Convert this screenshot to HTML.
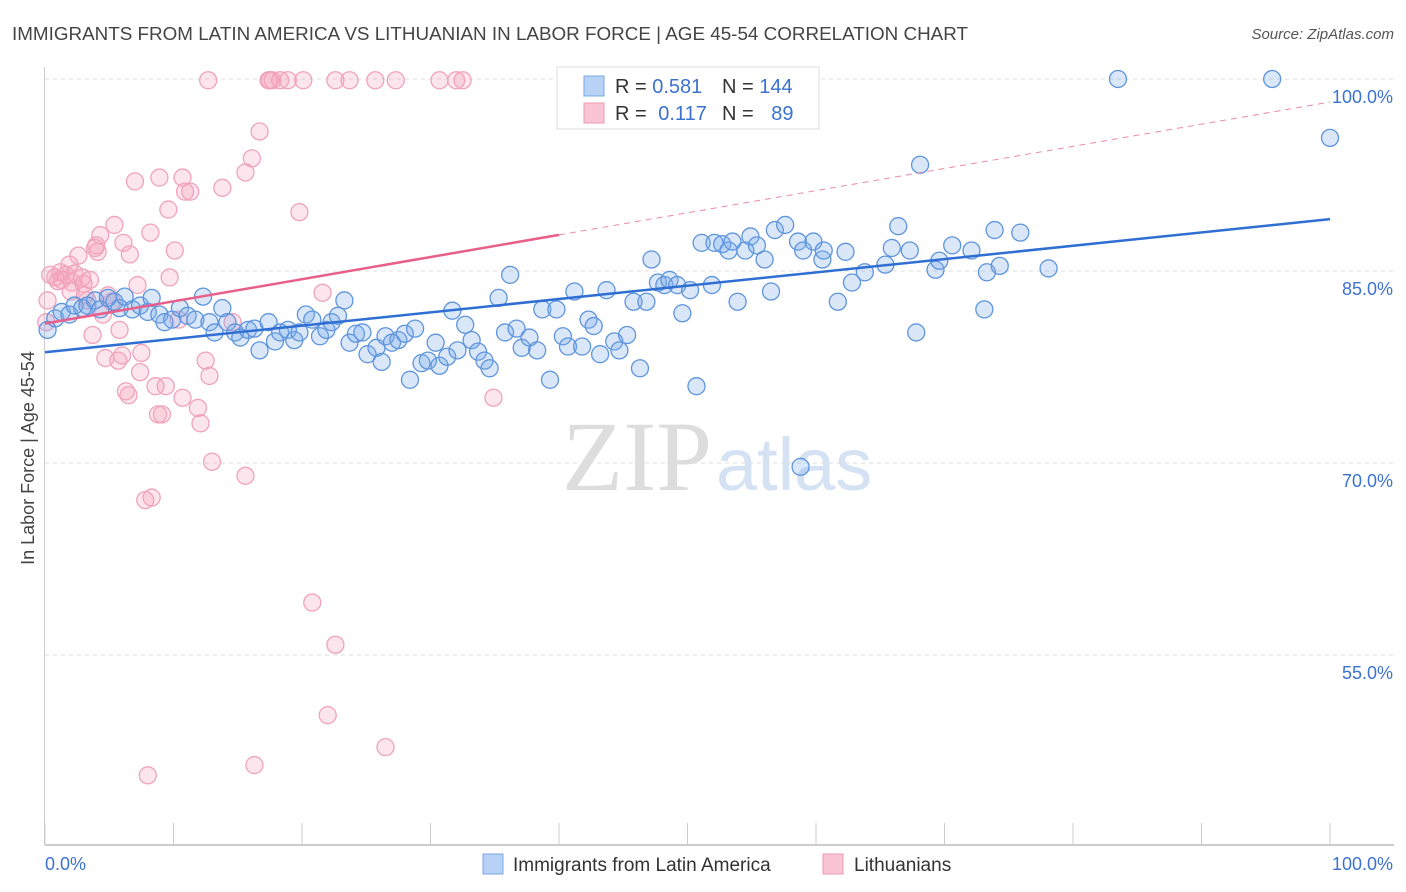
<!DOCTYPE html>
<html><head><meta charset="utf-8">
<style>
body{margin:0;background:#fff;font-family:"Liberation Sans",sans-serif;}
svg{display:block}
</style></head>
<body>
<svg id="chart" width="1406" height="892" viewBox="0 0 1406 892">
<text x="12" y="40" font-size="18" fill="#444" textLength="956" lengthAdjust="spacingAndGlyphs">IMMIGRANTS FROM LATIN AMERICA VS LITHUANIAN IN LABOR FORCE | AGE 45-54 CORRELATION CHART</text>
<text x="1394" y="39" font-size="15" fill="#555" font-style="italic" text-anchor="end">Source: ZipAtlas.com</text>
<text x="712" y="490" font-size="100" fill="#ddd" text-anchor="end" font-family="Liberation Serif,serif">ZIP</text>
<text x="716" y="490" font-size="74" fill="#d4e2f4">atlas</text>
<g id="grid"></g>
<g id="axes"></g>
<g id="pinkPts"></g>
<g id="bluePts"></g>
<g id="trends"></g>
<text x="34" y="458" font-size="18" fill="#444" text-anchor="middle" transform="rotate(-90 34 458)">In Labor Force | Age 45-54</text>
<g>
<rect x="557" y="67" width="262" height="62" fill="#fff" stroke="#ddd"/>
<rect x="584" y="76" width="20" height="20" fill="#b7d2f5" stroke="#7aa7e3"/>
<rect x="584" y="103" width="20" height="20" fill="#f9c4d3" stroke="#ee9ab4"/>
<text x="615" y="93" font-size="20" fill="#333">R = <tspan fill="#3b72d0">0.581</tspan></text>
<text x="722" y="93" font-size="20" fill="#333">N = <tspan fill="#3b72d0">144</tspan></text>
<text x="615" y="120" font-size="20" fill="#333">R = <tspan fill="#3b72d0" dx="6">0.117</tspan></text>
<text x="722" y="120" font-size="20" fill="#333">N = <tspan fill="#3b72d0" dx="12">89</tspan></text>
</g>
<g>
<rect x="483" y="854" width="20" height="20" fill="#b7d2f5" stroke="#7aa7e3"/>
<text x="513" y="871" font-size="19" fill="#333">Immigrants from Latin America</text>
<rect x="823" y="854" width="20" height="20" fill="#f9c4d3" stroke="#ee9ab4"/>
<text x="854" y="871" font-size="19" fill="#333">Lithuanians</text>
</g>
</svg>
<script>
const blueX=[0.2,0.8,1.3,1.9,2.3,2.9,3.3,3.9,4.3,4.9,5.4,5.8,6.2,6.8,7.4,8.0,8.3,8.9,9.3,9.9,10.5,11.1,11.7,12.3,12.8,13.2,13.8,14.2,14.8,15.2,15.8,16.3,16.7,17.4,17.9,18.3,18.9,19.4,19.8,20.3,20.8,21.4,21.9,22.3,22.8,23.3,23.7,24.2,24.7,25.1,25.8,26.2,26.5,27.0,27.5,28.0,28.4,28.8,29.3,29.8,30.4,30.7,31.3,31.7,32.1,32.7,33.2,33.7,34.2,34.6,35.3,35.8,36.2,36.7,37.1,37.7,38.3,38.7,39.3,39.8,40.3,40.7,41.2,41.8,42.3,42.7,43.2,43.7,44.3,44.7,45.3,45.8,46.3,46.8,47.2,47.7,48.2,48.6,49.2,49.6,50.2,50.7,51.1,51.9,52.1,52.7,53.2,53.5,53.9,54.5,54.9,55.4,56.0,56.5,56.8,57.6,58.6,59.0,59.8,60.5,60.6,61.7,62.3,62.8,63.8,65.4,65.9,66.4,67.3,67.8,68.1,69.3,69.6,70.6,72.1,73.1,73.3,73.9,74.3,75.9,78.1,58.8,83.5,95.5,100];
const blueY=[80.4,81.3,81.8,81.6,82.3,82.1,82.3,82.7,82.0,82.9,82.6,82.1,83.0,82.0,82.3,81.8,82.9,81.6,81.0,81.2,82.1,81.5,81.2,83.0,81.0,80.2,82.1,81.0,80.2,79.8,80.4,80.5,78.8,81.0,79.5,80.2,80.4,79.6,80.2,81.6,81.2,79.9,80.4,81.0,81.5,82.7,79.4,80.1,80.2,78.5,79.0,77.9,79.9,79.4,79.6,80.1,76.5,80.5,77.8,78.0,79.4,77.6,78.3,81.9,78.8,80.8,79.6,78.7,78.0,77.4,82.9,80.2,84.7,80.5,79.0,79.8,78.8,82.0,76.5,82.0,79.9,79.1,83.4,79.1,81.2,80.7,78.5,83.5,79.5,78.8,80.0,82.6,77.4,82.6,85.9,84.1,83.9,84.3,83.9,81.7,83.5,76.0,87.2,83.9,87.2,87.1,86.6,87.3,82.6,86.6,87.7,87.0,85.9,83.4,88.2,88.6,87.3,86.6,87.3,85.9,86.6,82.6,86.5,84.1,84.9,85.5,86.8,88.5,86.6,80.2,93.3,85.1,85.8,87.0,86.6,82.0,84.9,88.2,85.4,88.0,85.2,69.7,100,100,95.4];
const pinkX=[0.2,0.4,0.8,1.2,1.3,1.6,1.9,2.1,2.3,2.6,2.9,3.1,3.3,3.5,3.7,3.9,4.1,4.3,4.5,4.7,4.9,5.2,5.4,5.7,5.8,6.0,6.1,6.3,6.5,6.6,7.0,7.2,7.4,7.5,7.8,8.2,8.3,8.6,8.8,8.9,9.1,9.4,9.6,9.7,10.1,10.4,10.7,10.9,11.3,10.7,11.9,12.1,12.5,12.7,12.8,13.0,13.8,14.6,15.6,15.6,16.1,16.3,16.7,17.4,17.5,17.7,18.3,18.9,19.8,20.1,20.8,21.6,22.0,22.6,22.6,23.7,25.7,26.5,27.3,30.7,32.0,32.5,34.9,8.0,4.0,0.1,1.0,2.0,3.0];
const pinkY=[82.7,84.7,84.5,84.9,84.3,84.7,85.5,84.1,84.8,86.2,84.5,83.1,82.7,84.3,80.0,86.8,86.5,87.8,81.6,78.2,83.1,82.6,88.6,78.0,80.4,78.4,87.2,75.6,75.3,86.3,92.0,83.9,77.1,78.6,67.1,88.0,67.3,76.0,73.8,92.3,73.8,76.0,89.8,84.5,86.6,81.2,92.3,91.2,91.2,75.1,74.3,73.1,78.0,99.9,76.8,70.1,91.5,81.0,92.7,69.0,93.8,46.4,95.9,99.9,99.9,99.9,99.9,99.9,89.6,99.9,59.1,83.3,50.3,99.9,55.8,99.9,99.9,47.8,99.9,99.9,99.9,99.9,75.1,45.6,87.0,81.0,84.2,83.4,84.0];
const blueTrend=[78.65,89.05];   // y at x=0, x=100
const pinkTrend=[80.9,98.2];     // y at x=0, x=100
const pinkSolidEnd=40;
const yTicks=[100,85,70,55];
const xTickLabels=["0.0%","100.0%"];

const X0=45,X1=1330,Y100=79,PX=12.8;
const sx=v=>X0+(X1-X0)*v/100;
const sy=v=>Y100+(100-v)*PX;
const NS="http://www.w3.org/2000/svg";
function mk(tag,attrs,parent){const e=document.createElementNS(NS,tag);for(const k in attrs)e.setAttribute(k,attrs[k]);parent.appendChild(e);return e;}
const grid=document.getElementById('grid'),axes=document.getElementById('axes');
yTicks.forEach(t=>{
  const l=mk('line',{x1:45,x2:1394,y1:sy(t),y2:sy(t),stroke:'#ddd','stroke-dasharray':'4,4'},grid);
  
  
  const tx=mk('text',{x:1393,y:sy(t)+24,'font-size':18,fill:'#3b72d0','text-anchor':'end'},grid);
  tx.textContent=t.toFixed(1)+'%';
  
  
});
const yl=mk('line',{x1:44.5,x2:44.5,y1:67,y2:845,stroke:'#ccc'},axes);


const xl=mk('line',{x1:45,x2:1394,y1:845,y2:845,stroke:'#bbb','stroke-width':1.5},axes);


for(let i=0;i<=10;i++){
  const t=mk('line',{x1:sx(i*10),x2:sx(i*10),y1:823,y2:845,stroke:'#ccc'},axes);
  
  
}
const xa=mk('text',{x:45,y:870,'font-size':18,fill:'#3b72d0'},axes);xa.textContent=xTickLabels[0];


const xb=mk('text',{x:1393,y:870,'font-size':18,fill:'#3b72d0','text-anchor':'end'},axes);xb.textContent=xTickLabels[1];



const pg=document.getElementById('pinkPts');
pinkX.forEach((x,i)=>{
  const c=mk('circle',{cx:sx(x),cy:sy(pinkY[i]),r:8.5,fill:'rgba(244,160,188,0.28)',stroke:'#f0a3bb','stroke-width':1.3},pg);
  
  
});
const bg=document.getElementById('bluePts');
blueX.forEach((x,i)=>{
  const c=mk('circle',{cx:sx(x),cy:sy(blueY[i]),r:8.5,fill:'rgba(120,168,232,0.28)',stroke:'#5f95dd','stroke-width':1.3},bg);
  
  
});
const tg=document.getElementById('trends');
const py=(tr,x)=>tr[0]+(tr[1]-tr[0])*x/100;
const pd=mk('line',{x1:sx(pinkSolidEnd),y1:sy(py(pinkTrend,pinkSolidEnd)),x2:sx(100),y2:sy(pinkTrend[1]),stroke:'#eb8aa8','stroke-width':1,'stroke-dasharray':'6,5'},tg);


const ps=mk('line',{x1:sx(0),y1:sy(pinkTrend[0]),x2:sx(pinkSolidEnd),y2:sy(py(pinkTrend,pinkSolidEnd)),stroke:'#e8608a','stroke-width':2.5},tg);


const bl=mk('line',{x1:sx(0),y1:sy(blueTrend[0]),x2:sx(100),y2:sy(blueTrend[1]),stroke:'#2f6fd3','stroke-width':2.5},tg);


</script>
</body></html>
